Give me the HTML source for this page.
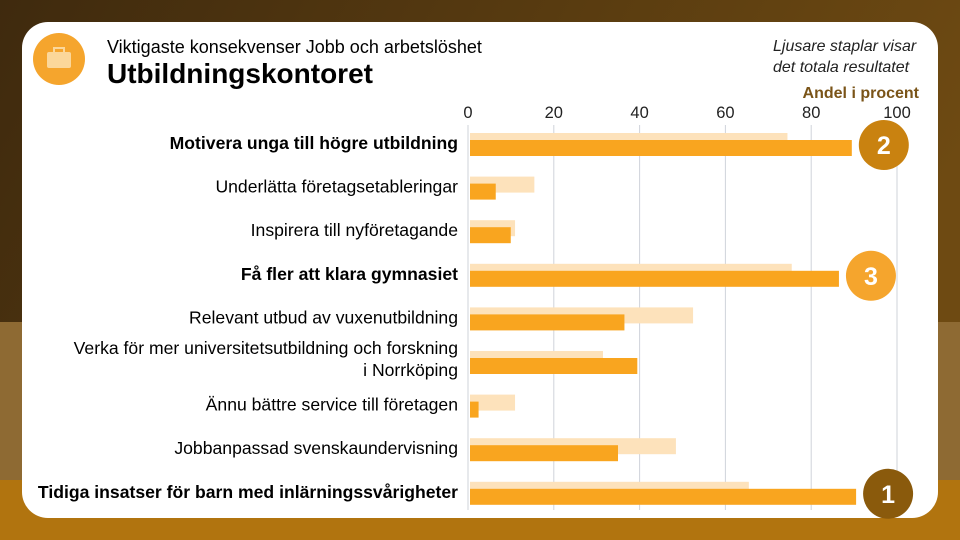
<!DOCTYPE html>
<html><head><meta charset="utf-8"><style>
html,body{margin:0;padding:0;width:960px;height:540px;overflow:hidden;font-family:"Liberation Sans",sans-serif}
</style></head><body>
<svg width="960" height="540" viewBox="0 0 960 540" xmlns="http://www.w3.org/2000/svg">
<defs>
<linearGradient id="bg" x1="0" y1="0" x2="1" y2="0.3"><stop offset="0" stop-color="#3f2a0e"/><stop offset="1" stop-color="#6e4a12"/></linearGradient>
</defs>
<rect width="960" height="540" fill="url(#bg)"/>
<rect x="0" y="322" width="960" height="218" fill="#8e6a33"/>
<rect x="0" y="480" width="960" height="60" fill="#b1740f"/>
<rect x="22" y="22" width="916" height="496" rx="26" fill="#ffffff"/>
<circle cx="59" cy="59" r="26" fill="#f5a52d"/>
<rect x="47" y="52" width="24" height="16" rx="2" fill="#fbd79a"/>
<rect x="54" y="48" width="10" height="5" fill="none" stroke="#fbd79a" stroke-width="2"/>
<text x="107" y="53" font-size="18" fill="#000">Viktigaste konsekvenser Jobb och arbetslöshet</text>
<text x="107" y="83" font-size="28" font-weight="bold" fill="#000">Utbildningskontoret</text>
<text x="773" y="51" font-size="16" font-style="italic" fill="#222">Ljusare staplar visar</text>
<text x="773" y="72" font-size="16" font-style="italic" fill="#222">det totala resultatet</text>
<text x="919" y="98" font-size="16" font-weight="bold" fill="#7a5418" text-anchor="end">Andel i procent</text>
<g id="chart"></g>
</svg>
<script>
const categories=["Motivera unga till högre utbildning","Underlätta företagsetableringar","Inspirera till nyföretagande","Få fler att klara gymnasiet","Relevant utbud av vuxenutbildning","Verka för mer universitetsutbildning och forskning|i Norrköping","Ännu bättre service till företagen","Jobbanpassad svenskaundervisning","Tidiga insatser för barn med inlärningssvårigheter"];
const boldRows=[true,false,false,true,false,false,false,false,true];
const totalValues=[74,15,10.5,75,52,31,10.5,48,65];
const unitValues=[89,6,9.5,86,36,39,2,34.5,90];
const tickValues=[0,20,40,60,80,100];
const rankLabels=["2","","","3","","","","","1"];
const rankColors=["#c98210","","","#f5a52d","","","","","#8a5a0c"];
const NS="http://www.w3.org/2000/svg";
const g=document.getElementById('chart');
const x0=470,pxPer=4.29,rowTop=133,pitch=43.6;
const xs=v=>x0+v*pxPer;
const ys=i=>rowTop+i*pitch;
function mk(tag,attrs){const e=document.createElementNS(NS,tag);for(const k in attrs)e.setAttribute(k,attrs[k]);g.appendChild(e);return e;}
tickValues.forEach((t,i)=>{
 const l=mk('line',{x1:xs(t)-2,x2:xs(t)-2,y1:125,y2:510,stroke:'#cfd3da','stroke-width':1});
 
 
 const tx=mk('text',{x:xs(t)-2,y:118,'font-size':16.5,'text-anchor':'middle',fill:'#222'});
 tx.textContent=t;
 
 
});
categories.forEach((c,i)=>{
 const y=ys(i);
 const lb=mk('rect',{x:x0,y:y,width:xs(totalValues[i])-x0,height:16,fill:'#fde2bb'});
 
 
 const db=mk('rect',{x:x0,y:y+7,width:xs(unitValues[i])-x0,height:16,fill:'#f9a51f'});
 
 
 const parts=c.split('|');
 const cy=y+10;
 parts.forEach((p,j)=>{
  const t=mk('text',{x:458,y:cy+6+(parts.length>1?(j-0.5)*22-2:0),'font-size':17.6,'text-anchor':'end',fill:'#000','font-weight':boldRows[i]?'bold':'normal'});
  t.textContent=p;
  
  
 });
 if(rankLabels[i]){
  const cx=xs(unitValues[i])+32;
  const ci=mk('circle',{cx:cx,cy:y+12,r:25,fill:rankColors[i]});
  
  
  const rt=mk('text',{x:cx,y:y+21,'font-size':25,'font-weight':'bold','text-anchor':'middle',fill:'#fff'});
  rt.textContent=rankLabels[i];
  
  
 }
});
</script>
</body></html>
